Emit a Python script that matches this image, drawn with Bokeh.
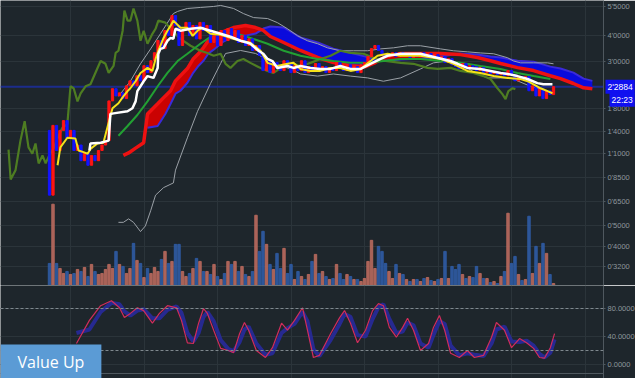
import numpy as np
from bokeh.plotting import figure
from bokeh.models import (Range1d, FixedTicker, CustomJSTickFormatter, PrintfTickFormatter,
                          Span, Label, LinearScale)
from bokeh.layouts import column
from bokeh.embed import file_html
from bokeh.resources import INLINE

# ---------------- data ----------------
price_ticks = [5.5, 4.0, 3.0, 1.8, 1.4, 1.1, 0.85, 0.65, 0.5, 0.4, 0.32]
osc_ticks = [0, 40, 80]
grid_bars = [20, 41, 62, 83, 104, 125, 146, 167]
last_price = 2.2884
last_price_label = "2'2884"
time_label = "22:23"
brand = "Value Up"

first_bar = 14
first_open = 1.42
closes = [0.70, 1.50, 1.14, 1.42, 1.58, 1.30, 1.42, 1.14, 1.21, 1.02,
          1.11, 0.97, 1.08, 1.02, 1.14, 1.21, 1.27, 1.96, 2.24, 2.07,
          2.14, 2.01, 2.31, 2.44, 2.31, 2.58, 2.44, 2.88, 2.67, 3.04,
          3.32, 3.79, 3.47, 4.23, 4.00, 4.98, 4.47, 3.59, 4.23, 4.62,
          4.00, 4.47, 3.86, 4.62, 4.23, 4.47, 3.71, 4.00, 3.59, 4.23,
          3.79, 4.32, 3.86, 4.23, 3.71, 4.00, 3.59, 3.86, 3.40, 3.59,
          3.22, 2.73, 3.04, 2.67, 2.98, 2.79, 2.73, 3.04, 2.95, 2.67,
          2.88, 2.73, 3.04, 2.67, 2.85, 2.73, 2.95, 2.73, 2.85, 2.67,
          2.82, 2.73, 2.98, 2.79, 2.73, 2.91, 2.73, 2.85, 2.67, 2.91,
          2.98, 3.18, 3.47, 3.59, 3.40, 3.22, 3.15, 3.22, 3.32, 3.18,
          3.32, 3.22, 3.29, 3.15, 3.25, 3.18, 3.32, 3.22, 3.29, 3.18,
          3.25, 3.11, 3.18, 2.98, 3.11, 2.91, 2.85, 2.79, 2.95, 2.79,
          2.88, 2.85, 2.73, 2.82, 2.67, 2.73, 2.64, 2.70, 2.61, 2.67,
          2.58, 2.73, 2.61, 2.44, 2.56, 2.50, 2.56, 2.19, 2.31, 2.07,
          2.24, 2.01, 2.19, 2.10, 2.29]
volumes = [22, 81, 22, 17, 12, 14, 11, 12, 16, 14,
           18, 9, 21, 14, 11, 12, 16, 21, 17, 34,
           21, 19, 12, 17, 42, 25, 22, 8, 17, 12,
           18, 14, 26, 34, 22, 24, 41, 41, 14, 9,
           12, 17, 27, 24, 14, 14, 11, 21, 9, 6,
           12, 24, 21, 24, 14, 19, 11, 9, 14, 70,
           34, 54, 41, 21, 16, 32, 17, 37, 12, 21,
           6, 14, 9, 6, 11, 24, 31, 12, 14, 9,
           6, 7, 21, 12, 6, 11, 9, 6, 6, 4,
           7, 24, 45, 17, 39, 34, 22, 14, 7, 21,
           12, 11, 6, 4, 6, 6, 4, 7, 8, 5,
           4, 6, 7, 34, 7, 19, 16, 21, 11, 7,
           9, 8, 19, 12, 7, 7, 3, 4, 2, 9,
           14, 72, 22, 29, 11, 5, 6, 69, 12, 39,
           22, 42, 32, 11, 2]

lagging_span = [(2.3, 1.15), (2.9, 0.83), (4.3, 0.92), (5.7, 1.27), (6.9, 1.57), (8.0, 1.18),
                (9.1, 1.10), (10.0, 1.23), (10.9, 0.99), (12.0, 1.08), (12.9, 0.99), (13.7, 1.06),
                (15.1, 1.16), (16.6, 1.34), (17.7, 1.46), (19.1, 1.52), (20.0, 2.30), (20.9, 2.25),
                (22.0, 1.95), (22.9, 2.13), (24.3, 2.30), (25.7, 2.35), (27.1, 2.66), (28.6, 3.03),
                (30.0, 2.94), (30.9, 2.66), (32.3, 2.87), (32.9, 3.31), (33.7, 3.39), (34.9, 4.22),
                (35.4, 5.26), (36.3, 4.71), (37.1, 4.71), (38.0, 5.38), (39.1, 4.71), (40.0, 3.78),
                (40.9, 4.22), (42.0, 3.66), (43.4, 4.08), (44.3, 4.31), (45.1, 4.71), (47.1, 4.61),
                (49.1, 4.22), (51.4, 3.86), (54.3, 3.58), (57.1, 3.39), (59.1, 3.31), (60.9, 3.21),
                (62.9, 3.28), (64.3, 2.94), (65.7, 2.81), (67.7, 3.03), (69.4, 3.10), (71.4, 2.97),
                (73.7, 2.84), (76.3, 2.72), (78.0, 2.66), (80.9, 2.87), (83.7, 2.94), (85.7, 2.87),
                (88.6, 2.97), (91.4, 3.10), (94.3, 3.21), (97.1, 3.39), (100.0, 3.31), (103.7, 3.28),
                (106.6, 3.14), (110.0, 3.03), (114.3, 2.97), (118.0, 2.94), (122.0, 2.81), (124.9, 2.78),
                (128.6, 2.81), (131.4, 2.72), (135.1, 2.66), (138.0, 2.57), (140.0, 2.49), (142.0, 2.25),
                (143.4, 2.11), (144.3, 2.00), (145.1, 2.18), (146.3, 2.25), (147.1, 2.23)]

white_line = [(25.4, 1.14), (25.7, 1.23), (28.6, 1.24), (30.9, 1.27), (31.4, 1.70), (32.3, 1.71),
              (36.3, 1.75), (37.7, 1.81), (38.6, 1.95), (39.1, 2.18), (40.0, 2.30), (40.9, 2.43),
              (42.0, 2.57), (43.7, 2.52), (44.9, 2.81), (45.1, 3.28), (45.7, 3.46), (46.6, 3.50),
              (47.7, 3.78), (48.6, 3.90), (49.4, 3.86), (50.0, 4.31), (51.4, 4.22), (54.3, 4.31),
              (57.1, 4.36), (60.0, 4.22), (62.9, 4.08), (65.7, 3.95), (68.6, 3.78), (70.6, 3.70),
              (71.4, 3.66), (73.7, 3.39), (75.1, 3.28), (76.3, 3.10), (77.7, 3.03), (79.1, 2.81),
              (82.0, 2.87), (83.7, 2.81), (85.7, 2.87), (88.6, 2.81), (91.4, 2.78), (94.3, 2.78),
              (97.1, 2.87), (100.0, 2.78), (102.9, 2.78), (105.7, 2.94), (108.6, 3.10), (110.6, 3.21),
              (114.3, 3.28), (120.0, 3.28), (128.6, 3.03), (130.6, 2.94), (133.4, 2.81), (137.1, 2.78),
              (140.0, 2.72), (142.9, 2.66), (144.9, 2.63), (147.7, 2.57), (150.6, 2.49), (153.4, 2.38),
              (155.1, 2.35), (157.7, 2.35)]

yellow_line = [(16.3, 0.97), (17.1, 1.18), (19.1, 1.31), (21.4, 1.30), (22.3, 1.14), (23.7, 1.12),
               (24.9, 1.10), (25.7, 1.16), (27.7, 1.23), (29.4, 1.24), (31.4, 1.66), (32.0, 1.81),
               (33.7, 1.91), (35.1, 2.06), (36.3, 2.18), (37.1, 2.25), (38.6, 2.43), (40.0, 2.66),
               (42.0, 2.81), (43.4, 2.72), (44.3, 3.10), (45.1, 3.39), (46.6, 3.90), (47.7, 4.22),
               (48.6, 4.46), (49.4, 4.71), (51.4, 4.36), (53.4, 4.36), (54.9, 3.99), (56.3, 4.22),
               (57.7, 4.36), (60.0, 4.08), (62.9, 4.04), (65.7, 3.90), (68.6, 3.78), (71.4, 3.70),
               (74.3, 3.39), (76.3, 2.97), (79.1, 2.87), (82.0, 2.94), (83.7, 2.97), (85.7, 2.78),
               (88.6, 2.72), (91.4, 2.72), (94.3, 2.81), (97.1, 2.81), (100.0, 2.72), (102.9, 2.78),
               (105.7, 3.03), (107.7, 3.21), (110.6, 3.28), (114.3, 3.21), (120.0, 3.21), (125.7, 3.10),
               (129.4, 2.94), (133.4, 2.72), (137.1, 2.66), (140.9, 2.57), (144.9, 2.52), (148.6, 2.49),
               (150.6, 2.43), (152.3, 2.35), (154.3, 2.25), (156.3, 2.18), (157.7, 2.13)]

green_ma = [(33.7, 1.34), (36.3, 1.49), (39.1, 1.68), (42.0, 1.95), (44.9, 2.30), (47.7, 2.66),
            (50.6, 3.03), (53.4, 3.28), (57.1, 3.66), (60.0, 3.95), (62.9, 4.13), (66.6, 4.13),
            (71.4, 3.90), (76.3, 3.66), (80.9, 3.39), (85.7, 3.21), (90.6, 3.10), (95.1, 3.03),
            (100.0, 2.97), (104.9, 2.97), (109.4, 3.03), (114.3, 3.10), (120.0, 3.10), (125.7, 3.03),
            (131.4, 2.97), (137.1, 2.87), (142.9, 2.78), (147.7, 2.66), (152.3, 2.57), (157.1, 2.49)]

band_upper = [(33.7, 2.06), (37.1, 2.43), (40.0, 2.94), (42.9, 3.46), (45.7, 4.08), (49.4, 5.09),
              (50.6, 5.21), (53.4, 5.38), (57.1, 5.44), (60.9, 5.50), (62.9, 5.56), (66.6, 5.38),
              (69.4, 5.09), (72.3, 4.87), (76.3, 4.82), (79.1, 4.61), (82.0, 4.31), (84.9, 3.99),
              (87.7, 3.78), (90.6, 3.66), (93.4, 3.50), (97.1, 3.39), (100.9, 3.39), (104.9, 3.39),
              (108.6, 3.46), (112.3, 3.50), (116.3, 3.58), (120.0, 3.58), (125.7, 3.46), (129.4, 3.39),
              (133.4, 3.35), (137.1, 3.31), (140.9, 3.28), (144.9, 3.14), (146.6, 3.03), (148.6, 2.97),
              (152.3, 2.97), (156.3, 2.97), (158.0, 2.94)]

band_lower = [(33.7, 0.52), (35.1, 0.52), (36.6, 0.54), (38.0, 0.52), (40.0, 0.47), (41.4, 0.50),
              (42.9, 0.59), (44.3, 0.70), (46.6, 0.76), (49.4, 0.80), (50.0, 0.92), (53.4, 1.31),
              (56.3, 1.75), (60.0, 2.37), (62.9, 2.95), (64.3, 3.29), (68.6, 3.40), (72.9, 3.29),
              (77.1, 3.03), (80.0, 2.87), (82.9, 2.78), (85.7, 2.63), (90.6, 2.57), (95.1, 2.63),
              (100.0, 2.57), (104.9, 2.52), (109.4, 2.43), (114.3, 2.52), (120.0, 2.78), (123.7, 2.97),
              (127.7, 3.03), (131.4, 2.94), (135.7, 2.66), (139.1, 2.52), (142.9, 2.52), (145.7, 2.52),
              (151.4, 2.30), (158.0, 2.13)]

cloud_x = [35.1, 36.6, 38.6, 40.9, 42.0, 44.9, 47.1, 48.6, 50.0, 51.4, 53.4, 55.1, 56.6, 58.0, 59.4,
           60.9, 63.7, 66.6, 70.0, 72.9, 75.1, 77.1, 80.9, 85.7, 90.6, 95.1, 100.0, 104.3, 107.1,
           110.0, 114.3, 120.0, 125.7, 131.4, 136.3, 140.0, 142.9, 147.7, 152.3, 157.1, 160.0,
           163.7, 166.6, 169.1]
span_red = [1.08, 1.11, 1.17, 1.24, 1.70, 1.90, 2.07, 2.19, 2.44, 2.58, 2.79, 3.11, 3.29, 3.51, 3.79,
            4.00, 4.18, 4.37, 4.47, 4.37, 4.23, 3.96, 3.71, 3.40, 3.15, 2.98, 2.88, 2.85, 2.98,
            3.18, 3.29, 3.29, 3.29, 3.25, 3.15, 3.04, 2.95, 2.82, 2.73, 2.58, 2.50, 2.37, 2.26, 2.24]
span_blue = [1.08, 1.11, 1.17, 1.24, 1.46, 1.49, 1.70, 1.90, 2.12, 2.19, 2.39, 2.67, 2.88, 3.04, 3.29,
             3.43, 3.75, 3.96, 4.00, 4.09, 4.32, 4.42, 4.37, 3.92, 3.71, 3.47, 3.32, 3.18, 3.08,
             3.04, 3.08, 3.11, 3.18, 3.29, 3.25, 3.18, 3.15, 3.04, 3.01, 2.85, 2.79, 2.67, 2.50, 2.44]

osc_x = [21.7, 25.4, 28.6, 31.7, 34.0, 35.4, 37.1, 39.1, 40.9, 43.4, 45.4, 47.7, 50.3, 51.7, 53.4,
         55.1, 56.6, 58.0, 59.1, 60.9, 62.9, 65.1, 66.6, 68.3, 69.7, 70.9, 73.1, 75.7, 77.7, 80.3,
         82.0, 84.0, 86.3, 87.7, 89.4, 91.1, 94.3, 96.9, 98.3, 100.0, 102.0, 104.3, 106.3, 108.0,
         109.4, 111.1, 113.1, 114.9, 116.3, 118.0, 120.0, 122.3, 123.7, 125.4, 126.9, 128.6, 131.1,
         133.4, 135.4, 138.0, 140.3, 141.7, 144.0, 146.0, 148.3, 150.3, 152.3, 154.0, 155.4, 157.1,
         158.3]
osc_k = [30, 63, 84, 91, 81, 67, 73, 81, 77, 59, 73, 84, 81, 63, 31, 30, 59, 80, 73, 49, 23, 20, 17,
         44, 60, 49, 20, 10, 24, 59, 49, 63, 81, 49, 10, 13, 44, 67, 77, 59, 31, 49, 77, 87, 84, 53,
         39, 53, 66, 49, 20, 30, 53, 70, 49, 16, 10, 20, 10, 13, 39, 60, 49, 24, 37, 31, 23, 10, 9,
         24, 44]
osc_d = [45, 50, 75, 88, 86, 76, 70, 77, 79, 66, 66, 78, 83, 74, 45, 33, 45, 68, 75, 62, 35, 22, 19,
         32, 50, 54, 30, 14, 16, 45, 52, 58, 75, 62, 22, 12, 35, 58, 72, 68, 42, 40, 65, 82, 86, 65,
         45, 47, 60, 56, 30, 24, 42, 62, 58, 27, 13, 16, 14, 12, 30, 50, 54, 33, 32, 34, 27, 15, 10,
         17, 36]
osc_levels = [80, 20]

# ---------------- styling ----------------
BG = "#1e262c"
GRID = "#2b343a"
AXIS = "#4f585f"
TXT = "#8e979d"
UP = "#ff1414"
DOWN = "#1414ff"
VOL_UP = "#b8695d"
VOL_DOWN = "#2f5ba3"
FONT = "Liberation Sans"
FRAME_W = 603
RIGHT_BORDER = 32

bars = first_bar + np.arange(len(closes))
closes_a = np.array(closes)
opens_a = np.concatenate([[first_open], closes_a[:-1]])
up = closes_a >= opens_a
candle_colors = [UP if u else DOWN for u in up]
vol_colors = [VOL_UP if u else VOL_DOWN for u in up]


def xy(pairs):
    a = np.array(pairs, dtype=float)
    return a[:, 0], a[:, 1]


def style_axis(ax):
    ax.axis_line_color = AXIS
    ax.major_tick_line_color = AXIS
    ax.minor_tick_line_color = None
    ax.major_tick_out = 2
    ax.major_tick_in = 0
    ax.major_label_standoff = 2
    ax.major_label_text_color = TXT
    ax.major_label_text_font = FONT
    ax.major_label_text_font_size = "7.5px"


x_range = Range1d(0, FRAME_W / 3.5)

p = figure(frame_width=FRAME_W, frame_height=285, x_range=x_range,
           y_range=Range1d(0.2608, 5.87), y_axis_type="log", y_axis_location="right",
           x_axis_location=None, toolbar_location=None, output_backend="svg",
           background_fill_color=BG, border_fill_color=BG, outline_line_color=None,
           min_border_left=0, min_border_top=0, min_border_bottom=0,
           min_border_right=RIGHT_BORDER)
p.extra_y_ranges = {"vol": Range1d(0, 284)}
p.extra_y_scales = {"vol": LinearScale()}
p.yaxis.ticker = FixedTicker(ticks=price_ticks)
p.yaxis.formatter = CustomJSTickFormatter(code="return tick.toFixed(4).replace('.', \"'\");")
style_axis(p.yaxis[0])
p.ygrid.grid_line_color = GRID
p.xgrid.ticker = FixedTicker(ticks=grid_bars)
p.xgrid.grid_line_color = GRID

p.add_layout(Span(location=last_price, dimension="width", line_color="#1c2c8c",
                  line_width=2, level="underlay"))

# volume
p.vbar(x=bars, top=volumes, bottom=0, width=0.7, color=vol_colors, alpha=0.9,
       y_range_name="vol")

# cloud
cx = np.array(cloud_x)
ra = np.array(span_red)
ba = np.array(span_blue)
top = np.maximum(ra, ba)
p.varea(x=cx, y1=ba, y2=top, fill_color="#d40000", fill_alpha=0.95)
p.varea(x=cx, y1=ra, y2=top, fill_color="#0a0ae6", fill_alpha=0.95)
p.line(cx[4:], ba[4:], line_color="#3b2bd8", line_width=2)
p.line(cx, ra, line_color="#ee1111", line_width=3.5)

# bands
ux, uy = xy(band_upper)
p.line(ux, uy, line_color="#9ba1a7", line_width=1)
lx, ly = xy(band_lower)
p.line(lx, ly, line_color="#9ba1a7", line_width=1)

# lagging span
gx, gy = xy(lagging_span)
p.line(gx, gy, line_color="#4e7d22", line_width=2.2)

# moving average
mx, my = xy(green_ma)
p.line(mx, my, line_color="#22a033", line_width=2)

# candles
p.vbar(x=bars, bottom=opens_a, top=closes_a, width=0.65, color=candle_colors)

yx, yy = xy(yellow_line)
p.line(yx, yy, line_color="#f5e21a", line_width=2)
wx, wy = xy(white_line)
p.line(wx, wy, line_color="#ffffff", line_width=2.5)

# last-price tags, placed in the right-hand panel so they are not clipped to the frame
p.add_layout(Label(x=FRAME_W / 3.5, y=last_price, text=last_price_label, text_color="white",
                   text_font=FONT, text_font_size="8.5px", text_baseline="middle",
                   background_fill_color="#1010f0", x_offset=2, padding=(2, 2)), "right")
p.add_layout(Label(x=FRAME_W / 3.5, y=last_price, text=time_label, text_color="white",
                   text_font=FONT, text_font_size="8.5px", text_baseline="middle",
                   background_fill_color="#1010f0", x_offset=6, y_offset=-13, padding=(2, 2)),
             "right")

# ---------------- oscillator ----------------
q = figure(frame_width=FRAME_W, frame_height=93, x_range=x_range,
           y_range=Range1d(-20, 112.86), y_axis_location="right",
           x_axis_location=None, toolbar_location=None, output_backend="svg",
           background_fill_color=BG, border_fill_color=BG, outline_line_color=None,
           min_border_left=0, min_border_top=0, min_border_bottom=0,
           min_border_right=RIGHT_BORDER)
q.yaxis.ticker = FixedTicker(ticks=osc_ticks)
q.yaxis.formatter = PrintfTickFormatter(format="%.4f")
style_axis(q.yaxis[0])
q.ygrid.grid_line_color = GRID
q.xgrid.ticker = FixedTicker(ticks=grid_bars)
q.xgrid.grid_line_color = GRID
q.add_layout(Span(location=q.y_range.end, dimension="width", line_color=AXIS, line_width=1))
q.add_layout(Span(location=-12.86, dimension="width", line_color=AXIS, line_width=1))
for lv in osc_levels:
    q.add_layout(Span(location=lv, dimension="width", line_color="#7f888e", line_width=1,
                      line_dash="3 2"))

q.line(osc_x, osc_d, line_color="#272a9c", line_width=4, line_alpha=0.9)
q.line(osc_x, osc_k, line_color="#d12c5c", line_width=1.2)

q.add_layout(Label(x=0, y=-20, text=brand, text_color="white", text_font="Open Sans",
                   text_font_size="16px", text_align="left", text_baseline="bottom",
                   background_fill_color="#5b9bd5", padding=(17, 6)))

layout = column(p, q, spacing=0)
open("out.html", "w").write(file_html(layout, INLINE))
